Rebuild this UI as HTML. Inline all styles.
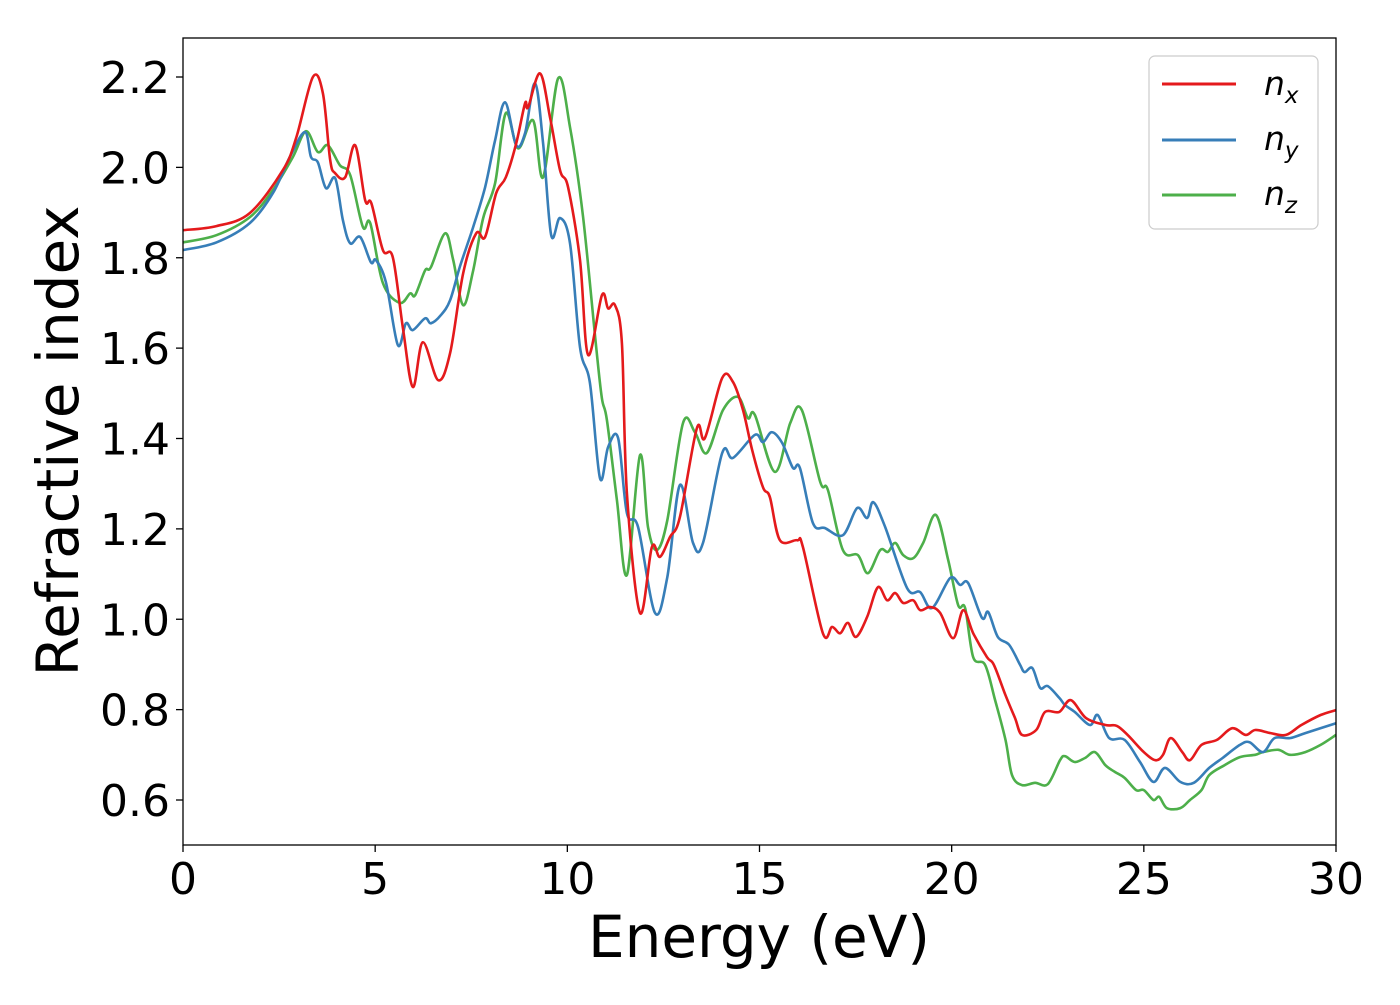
<!DOCTYPE html>
<html><head><meta charset="utf-8"><style>
html,body{margin:0;padding:0;background:#fff;}
svg text{font-family:"DejaVu Sans","Liberation Sans",sans-serif;}
</style></head><body>
<svg id="chart" width="1400" height="1000" viewBox="0 0 1400 1000" xmlns="http://www.w3.org/2000/svg">
<rect x="0" y="0" width="1400" height="1000" fill="#fff"/>
<g id="series"></g>
<rect x="183" y="38" width="1153" height="807" fill="none" stroke="#000" stroke-width="1.3"/>
<g id="xticks"></g><g id="yticks"></g>
<text x="759" y="957" font-size="58" text-anchor="middle">Energy (eV)</text>
<text transform="translate(78,441) rotate(-90)" font-size="58" text-anchor="middle">Refractive index</text>
<g>
<rect x="1149" y="56" width="169" height="173" rx="6" fill="#fff" stroke="#ccc" stroke-width="1.2"/>
<line x1="1162" y1="84" x2="1236" y2="84" stroke="#e41a1c" stroke-width="3"/>
<text x="1264" y="95" font-size="33" font-style="italic">n<tspan font-size="23" dy="8">x</tspan></text>
<line x1="1162" y1="140" x2="1236" y2="140" stroke="#377eb8" stroke-width="3"/>
<text x="1264" y="150" font-size="33" font-style="italic">n<tspan font-size="23" dy="8">y</tspan></text>
<line x1="1162" y1="195" x2="1236" y2="195" stroke="#4daf4a" stroke-width="3"/>
<text x="1264" y="205" font-size="33" font-style="italic">n<tspan font-size="23" dy="8">z</tspan></text>
</g>
</svg>
<script>
const xTicks=[0,5,10,15,20,25,30];
const yTicks=[0.6,0.8,1.0,1.2,1.4,1.6,1.8,2.0,2.2];
const nxE=[0,0.87,1.74,2.6,2.95,3.38,3.64,3.83,3.96,4.22,4.48,4.74,4.9,5.2,5.46,5.72,5.98,6.24,6.64,6.95,7.29,7.63,7.86,8.15,8.4,8.67,8.9,8.98,9.29,9.55,9.81,10.02,10.33,10.54,10.9,11.06,11.24,11.42,11.55,11.89,12.2,12.41,12.67,12.93,13.37,13.58,14.03,14.31,14.57,14.81,15.09,15.27,15.53,15.98,16.13,16.65,16.89,17.1,17.3,17.51,17.8,18.08,18.32,18.53,18.74,19.0,19.18,19.44,19.7,20.04,20.3,20.56,20.92,21.1,21.4,21.65,21.83,22.2,22.43,22.8,23.1,23.5,24.0,24.3,24.6,25.0,25.3,25.5,25.7,26.0,26.2,26.5,26.9,27.3,27.65,27.9,28.3,28.7,29.1,29.6,30];
const nxV=[1.861,1.87,1.899,1.994,2.067,2.2,2.164,2.016,1.987,1.978,2.049,1.927,1.921,1.817,1.801,1.646,1.514,1.613,1.529,1.589,1.766,1.854,1.846,1.943,1.978,2.053,2.142,2.133,2.208,2.111,1.994,1.956,1.795,1.585,1.717,1.688,1.695,1.611,1.279,1.014,1.16,1.138,1.182,1.226,1.423,1.401,1.534,1.525,1.463,1.374,1.292,1.27,1.175,1.175,1.16,0.969,0.983,0.969,0.992,0.961,1.005,1.071,1.042,1.058,1.036,1.042,1.02,1.027,1.014,0.958,1.02,0.969,0.916,0.899,0.832,0.781,0.744,0.755,0.795,0.795,0.821,0.781,0.766,0.764,0.742,0.706,0.688,0.7,0.737,0.706,0.688,0.722,0.733,0.759,0.744,0.755,0.748,0.744,0.766,0.788,0.799];
const nyE=[0,0.87,1.74,2.34,2.78,3.17,3.33,3.51,3.72,3.96,4.16,4.35,4.61,4.89,5.02,5.28,5.59,5.8,5.98,6.3,6.45,6.71,6.95,7.2,7.55,7.86,8.12,8.38,8.67,8.9,9.16,9.37,9.58,9.81,10.07,10.33,10.59,10.85,11.06,11.32,11.55,11.84,12.28,12.6,12.93,13.27,13.53,14.03,14.31,14.88,15.09,15.32,15.59,15.87,16.05,16.39,16.7,17.17,17.54,17.8,17.96,18.27,18.84,19.18,19.49,19.96,20.22,20.43,20.79,20.95,21.2,21.5,21.78,21.9,22.1,22.3,22.5,22.8,22.95,23.2,23.6,23.8,24.1,24.5,24.9,25.25,25.55,25.95,26.3,26.7,27.05,27.5,27.75,28.1,28.4,28.8,29.2,30];
const nyV=[1.817,1.834,1.877,1.943,2.023,2.078,2.023,2.011,1.954,1.976,1.883,1.832,1.846,1.79,1.795,1.746,1.607,1.655,1.64,1.666,1.655,1.673,1.706,1.779,1.868,1.956,2.06,2.144,2.049,2.076,2.186,2.053,1.85,1.888,1.832,1.602,1.522,1.312,1.381,1.401,1.235,1.204,1.014,1.093,1.297,1.169,1.169,1.368,1.357,1.408,1.392,1.414,1.39,1.335,1.335,1.213,1.202,1.186,1.246,1.224,1.259,1.204,1.069,1.06,1.025,1.091,1.076,1.08,1.003,1.016,0.961,0.943,0.899,0.883,0.892,0.848,0.852,0.826,0.81,0.795,0.766,0.788,0.737,0.733,0.684,0.64,0.671,0.64,0.638,0.671,0.693,0.722,0.728,0.706,0.737,0.737,0.748,0.77];
const nzE=[0,0.87,1.74,2.34,2.86,3.2,3.51,3.77,4.08,4.35,4.68,4.87,5.2,5.64,5.91,6.04,6.3,6.45,6.82,7.03,7.29,7.55,7.81,8.12,8.4,8.72,9.11,9.37,9.76,10.07,10.41,10.75,10.9,11.03,11.29,11.55,11.89,12.1,12.33,12.6,13.01,13.32,13.63,14.05,14.44,14.7,14.88,15.4,15.8,16.1,16.58,16.78,17.17,17.56,17.82,18.14,18.34,18.53,18.74,19.0,19.26,19.59,19.91,20.17,20.35,20.56,20.87,21.13,21.4,21.57,21.83,22.17,22.5,22.82,22.95,23.2,23.47,23.73,24.0,24.25,24.5,24.8,25.0,25.25,25.4,25.6,25.95,26.2,26.5,26.7,27.1,27.5,27.9,28.1,28.5,28.8,29.2,29.6,30];
const nzV=[1.834,1.85,1.89,1.95,2.023,2.08,2.034,2.049,2.005,1.983,1.868,1.877,1.744,1.7,1.721,1.717,1.772,1.779,1.854,1.795,1.695,1.772,1.888,1.965,2.12,2.042,2.104,1.978,2.197,2.089,1.89,1.602,1.489,1.441,1.264,1.098,1.363,1.204,1.153,1.219,1.434,1.414,1.368,1.463,1.492,1.445,1.452,1.326,1.434,1.463,1.304,1.286,1.153,1.142,1.102,1.153,1.149,1.169,1.142,1.135,1.169,1.231,1.131,1.031,1.025,0.916,0.899,0.821,0.733,0.655,0.633,0.638,0.635,0.688,0.697,0.684,0.693,0.706,0.677,0.662,0.649,0.622,0.622,0.6,0.607,0.582,0.582,0.6,0.622,0.655,0.677,0.695,0.7,0.706,0.711,0.7,0.706,0.722,0.744];

const X0=183,X1=1336,Y0=800,Y1=77;
function xs(e){return X0+(e-0)/(30-0)*(X1-X0);}
function ys(v){return Y0-(v-0.6)/(2.2-0.6)*(Y0-Y1);}
const NS='http://www.w3.org/2000/svg';
function smoothPath(E,V){
  const p=E.map((e,i)=>[xs(e),ys(V[i])]);
  let d='M'+p[0][0].toFixed(1)+','+p[0][1].toFixed(1);
  for(let i=0;i<p.length-1;i++){
    const a=p[Math.max(0,i-1)],b=p[i],c=p[i+1],n=p[Math.min(p.length-1,i+2)];
    const c1=[b[0]+(c[0]-a[0])/6,b[1]+(c[1]-a[1])/6];
    const c2=[c[0]-(n[0]-b[0])/6,c[1]-(n[1]-b[1])/6];
    d+='C'+c1[0].toFixed(1)+','+c1[1].toFixed(1)+' '+c2[0].toFixed(1)+','+c2[1].toFixed(1)+' '+c[0].toFixed(1)+','+c[1].toFixed(1);
  }
  return d;
}
const g=document.getElementById('series');
function addSeries(E,V,color,name){
  const el=document.createElementNS(NS,'path');
  el.setAttribute('d',smoothPath(E,V));
  el.setAttribute('fill','none');
  el.setAttribute('stroke',color);
  el.setAttribute('stroke-width','2.6');
  el.setAttribute('stroke-linejoin','round');
  
  
  g.appendChild(el);
}
addSeries(nzE,nzV,'#4daf4a','series-nz');
addSeries(nyE,nyV,'#377eb8','series-ny');
addSeries(nxE,nxV,'#e41a1c','series-nx');

const xt=document.getElementById('xticks');
xTicks.forEach(t=>{
  const ln=document.createElementNS(NS,'line');
  ln.setAttribute('x1',xs(t));ln.setAttribute('x2',xs(t));
  ln.setAttribute('y1',845);ln.setAttribute('y2',852);
  ln.setAttribute('stroke','#000');ln.setAttribute('stroke-width','1.3');
  
  
  xt.appendChild(ln);
  const tx=document.createElementNS(NS,'text');
  tx.setAttribute('x',xs(t));tx.setAttribute('y',894);
  tx.setAttribute('font-size','44');tx.setAttribute('text-anchor','middle');
  tx.textContent=String(t);
  
  
  xt.appendChild(tx);
});
const yt=document.getElementById('yticks');
yTicks.forEach(t=>{
  const ln=document.createElementNS(NS,'line');
  ln.setAttribute('x1',176);ln.setAttribute('x2',183);
  ln.setAttribute('y1',ys(t));ln.setAttribute('y2',ys(t));
  ln.setAttribute('stroke','#000');ln.setAttribute('stroke-width','1.3');
  
  
  yt.appendChild(ln);
  const tx=document.createElementNS(NS,'text');
  tx.setAttribute('x',170);tx.setAttribute('y',ys(t)+16);
  tx.setAttribute('font-size','44');tx.setAttribute('text-anchor','end');
  tx.textContent=t.toFixed(1);
  
  
  yt.appendChild(tx);
});
</script>
</body></html>
